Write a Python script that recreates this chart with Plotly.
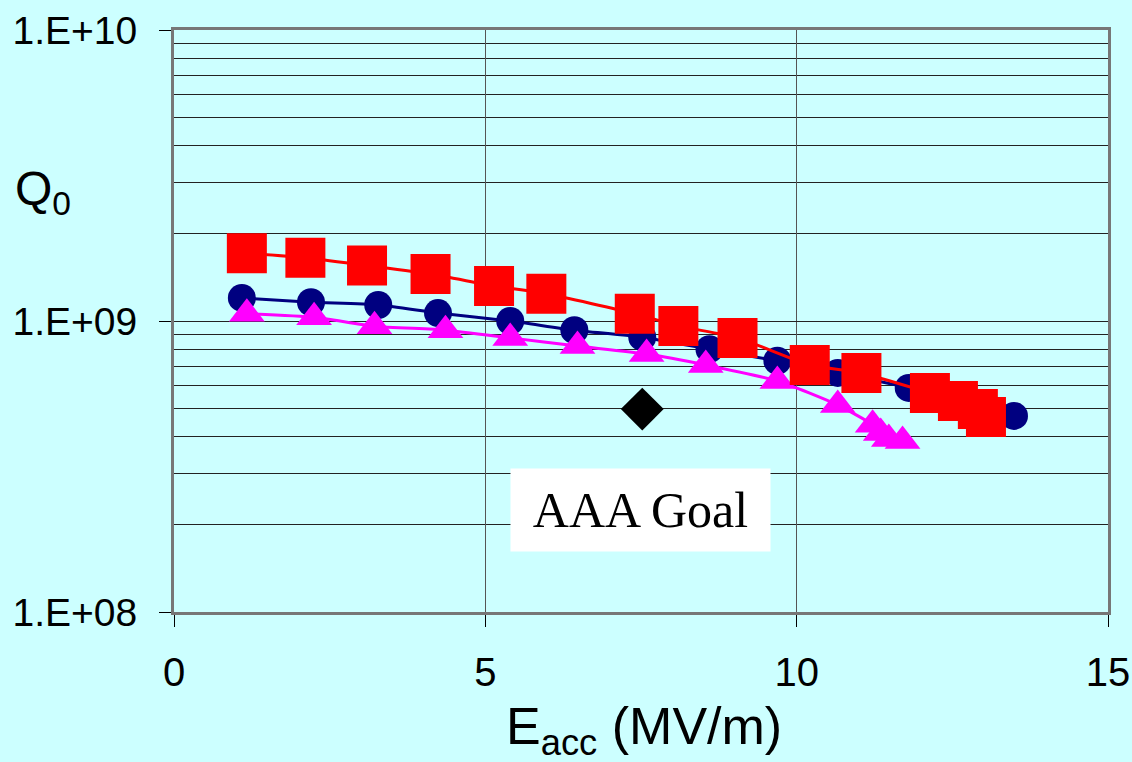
import plotly.graph_objects as go

# Accelerating gradient (MV/m) and unloaded Q for three cavity tests
e_circle = [1.09, 2.20, 3.28, 4.24, 5.40, 6.43, 7.52, 8.60, 9.69, 10.66, 11.80, 13.49]
q_circle = [1.20e9, 1.16e9, 1.135e9, 1.065e9, 1.0e9, 0.93e9, 0.88e9, 0.80e9, 0.73e9, 0.663e9, 0.589e9, 0.472e9]

e_triangle = [1.17, 2.25, 3.22, 4.36, 5.40, 6.48, 7.59, 8.54, 9.69, 10.66, 11.22, 11.35, 11.48, 11.70]
q_triangle = [1.06e9, 1.03e9, 0.96e9, 0.93e9, 0.875e9, 0.82e9, 0.77e9, 0.706e9, 0.622e9, 0.514e9, 0.44e9, 0.412e9, 0.393e9, 0.387e9]

e_square = [1.17, 2.11, 3.10, 4.12, 5.14, 5.98, 7.40, 8.10, 9.05, 10.21, 11.04, 12.14, 12.59, 12.91, 13.04]
q_square = [1.71e9, 1.65e9, 1.55e9, 1.45e9, 1.32e9, 1.24e9, 1.06e9, 0.962e9, 0.875e9, 0.706e9, 0.663e9, 0.566e9, 0.531e9, 0.498e9, 0.468e9]

# Performance goal
e_goal = [7.52]
q_goal = [0.498e9]

x_ticks = [0, 5, 10, 15]
y_ticks = [1e8, 1e9, 1e10]
y_tick_labels = ["1.E+08", "1.E+09", "1.E+10"]
y_minor = [m * 10 ** d for d in (8, 9) for m in range(2, 10)]

bg = "#CCFFFF"
font = "Liberation Sans, Arial, sans-serif"

fig = go.Figure()

fig.add_trace(go.Scatter(
    x=e_circle, y=q_circle, mode="lines+markers",
    line=dict(color="#000080", width=3, shape="spline", smoothing=0.6),
    marker=dict(symbol="circle", size=28, color="#000080", line=dict(width=0)),
))
fig.add_trace(go.Scatter(
    x=e_triangle, y=q_triangle, mode="lines+markers",
    line=dict(color="#FF00FF", width=3, shape="spline", smoothing=0.6),
    marker=dict(symbol="triangle-up", size=31, color="#FF00FF", line=dict(width=0)),
))
fig.add_trace(go.Scatter(
    x=e_square, y=q_square, mode="lines+markers",
    line=dict(color="#FF0000", width=3, shape="spline", smoothing=0.6),
    marker=dict(symbol="square", size=40, color="#FF0000", line=dict(width=0)),
))
fig.add_trace(go.Scatter(
    x=e_goal, y=q_goal, mode="markers",
    marker=dict(symbol="diamond", size=33, color="black", line=dict(width=0)),
))

fig.update_layout(
    width=1132, height=762,
    margin=dict(l=174, r=24, t=30, b=150, autoexpand=False),
    paper_bgcolor=bg, plot_bgcolor=bg,
    showlegend=False,
    font=dict(family=font, color="black"),
)

fig.update_xaxes(
    range=[0, 15], tickvals=x_ticks, ticks="outside", ticklen=12, tickcolor="black",
    tickfont=dict(size=40, family=font), ticklabelstandoff=11, automargin=False,
    showgrid=True, gridcolor="#555555", gridwidth=1,
    showline=True, linecolor="#777777", linewidth=3, mirror=True,
    zeroline=False,
)
fig.update_yaxes(
    type="log", range=[8, 10], tickvals=y_ticks, ticktext=y_tick_labels,
    ticks="outside", ticklen=12, tickcolor="black",
    tickfont=dict(size=39, family=font), ticklabelstandoff=14, automargin=False,
    showgrid=True, gridcolor="#222222", gridwidth=1,
    minor=dict(tickvals=y_minor, showgrid=True, gridcolor="#222222", gridwidth=1, ticks=""),
    showline=True, linecolor="#777777", linewidth=3, mirror=True,
    zeroline=False,
)

fig.add_annotation(
    text="Q<sub>0</sub>", xref="paper", yref="paper",
    x=-0.172, y=0.722, xanchor="left", yanchor="middle",
    showarrow=False, font=dict(size=48, family=font),
)
fig.add_annotation(
    text="E<sub>acc</sub> (MV/m)", xref="paper", yref="paper",
    x=0.503, y=-0.203, xanchor="center", yanchor="middle",
    showarrow=False, font=dict(size=52, family=font),
)
fig.add_annotation(
    text="AAA Goal", x=7.49, y=8.351, xref="x", yref="y",
    showarrow=False, bgcolor="white", width=255, height=78, borderpad=2,
    font=dict(size=50, family="Liberation Serif, Times New Roman, serif"),
)

fig.write_html("out.html")
